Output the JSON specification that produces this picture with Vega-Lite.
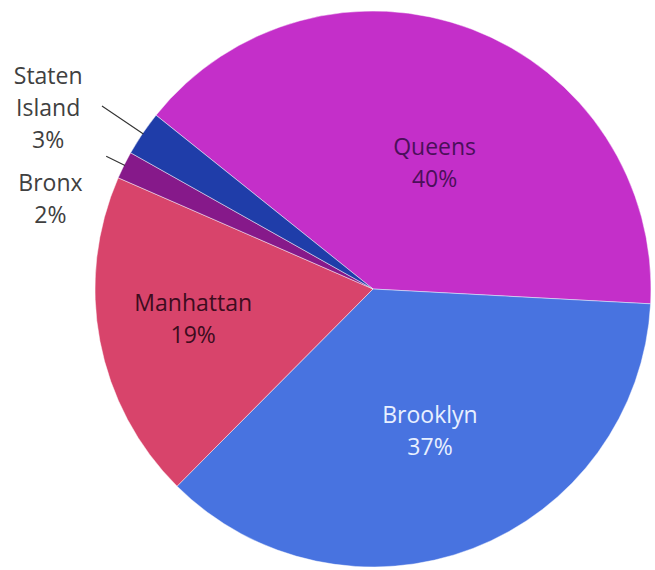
{
  "$schema": "https://vega.github.io/schema/vega-lite/v6.json",
  "width": 560,
  "height": 560,
  "autosize": "none",
  "padding": {"left": 93, "top": 9, "right": 2, "bottom": 1},
  "background": "white",
  "config": {"view": {"stroke": null}},
  "data": {
    "values": [
      {"cat": "Queens", "value": 40.1, "order": 1, "label": "Queens\n40%"},
      {"cat": "Brooklyn", "value": 36.6, "order": 2, "label": "Brooklyn\n37%"},
      {"cat": "Manhattan", "value": 19.1, "order": 3, "label": "Manhattan\n19%"},
      {"cat": "Bronx", "value": 1.6, "order": 4, "label": "Bronx\n2%"},
      {"cat": "Staten Island", "value": 2.6, "order": 5, "label": "Staten\nIsland\n3%"}
    ]
  },
  "encoding": {
    "theta": {"field": "value", "type": "quantitative", "stack": true, "scale": {"range": [-0.8954, 5.3878]}},
    "order": {"field": "order", "type": "quantitative"}
  },
  "layer": [
    {
      "mark": {"type": "arc", "radius": 278, "stroke": "#ffffff", "strokeWidth": 1, "strokeOpacity": 0.45},
      "encoding": {
        "color": {
          "field": "cat",
          "type": "nominal",
          "legend": null,
          "scale": {
            "domain": ["Queens", "Brooklyn", "Manhattan", "Bronx", "Staten Island"],
            "range": ["#C42FC9", "#4873E0", "#D8446B", "#86198A", "#1F3DA9"]
          }
        }
      }
    },
    {
      "mark": {"type": "arc", "radius": 327, "radius2": 277, "padAngle": 0.4, "fill": null, "fillOpacity": 0, "stroke": "#333333", "strokeWidth": 1.1},
      "encoding": {"opacity": {"condition": {"test": "datum.cat === 'Staten Island'", "value": 1}, "value": 0}}
    },
    {
      "mark": {"type": "arc", "radius": 298, "radius2": 277, "padAngle": 0.4, "fill": null, "fillOpacity": 0, "stroke": "#333333", "strokeWidth": 1.1},
      "encoding": {"opacity": {"condition": {"test": "datum.cat === 'Bronx'", "value": 1}, "value": 0}}
    },
    {
      "mark": {"type": "text", "radius": 142, "dx": 11, "dy": -8, "font": "Open Sans", "fontSize": 23, "lineHeight": 32, "lineBreak": "\n", "align": "center", "baseline": "middle", "color": "#4B0F5A"},
      "encoding": {"text": {"condition": {"test": "datum.cat === 'Queens'", "field": "label", "type": "nominal"}, "value": ""}}
    },
    {
      "mark": {"type": "text", "radius": 153, "dx": 2, "dy": -16, "font": "Open Sans", "fontSize": 23, "lineHeight": 32, "lineBreak": "\n", "align": "center", "baseline": "middle", "color": "#E8F0FF"},
      "encoding": {"text": {"condition": {"test": "datum.cat === 'Brooklyn'", "field": "label", "type": "nominal"}, "value": ""}}
    },
    {
      "mark": {"type": "text", "radius": 182, "dx": -1, "dy": -19, "font": "Open Sans", "fontSize": 23, "lineHeight": 32, "lineBreak": "\n", "align": "center", "baseline": "middle", "color": "#3D0C1E"},
      "encoding": {"text": {"condition": {"test": "datum.cat === 'Manhattan'", "field": "label", "type": "nominal"}, "value": ""}}
    },
    {
      "mark": {"type": "text", "radius": 300, "dx": -54, "dy": 29, "font": "Open Sans", "fontSize": 23, "lineHeight": 32, "lineBreak": "\n", "align": "center", "baseline": "middle", "color": "#404040"},
      "encoding": {"text": {"condition": {"test": "datum.cat === 'Bronx'", "field": "label", "type": "nominal"}, "value": ""}}
    },
    {
      "mark": {"type": "text", "radius": 340, "dx": -43, "dy": -22, "font": "Open Sans", "fontSize": 23, "lineHeight": 32, "lineBreak": "\n", "align": "center", "baseline": "middle", "color": "#404040"},
      "encoding": {"text": {"condition": {"test": "datum.cat === 'Staten Island'", "field": "label", "type": "nominal"}, "value": ""}}
    }
  ]
}
